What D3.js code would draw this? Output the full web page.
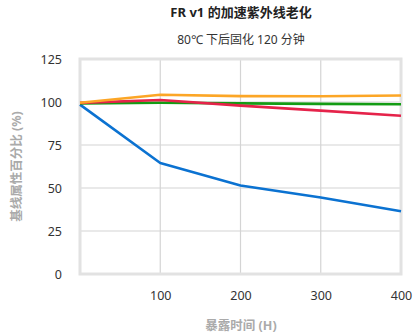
<!DOCTYPE html>
<html>
<head>
<meta charset="utf-8">
<script src="https://cdn.jsdelivr.net/npm/d3@7"></script>
<style>
body { margin: 0; background: #fff; }
svg text { font-family: "Noto Sans", "Noto Sans CJK SC", sans-serif; }
</style>
</head>
<body>
<div id="chart"></div>
<script>
// Chart data
const hours = [0, 100, 200, 300, 400];
const blueSeries = [98.5, 64.5, 51.5, 44.5, 36.5];
const orangeSeries = [99.6, 104.2, 103.4, 103.3, 103.8];
const greenSeries = [99.2, 99.6, 99.2, 98.9, 98.7];
const redSeries = [99.5, 101.2, 97.9, 95.0, 92.0];
const xTicks = [100, 200, 300, 400];
const yTicks = [0, 25, 50, 75, 100, 125];

const series = [
    { name: "blue", values: blueSeries, color: "#0b72d1" },
    { name: "green", values: greenSeries, color: "#139c14" },
    { name: "red", values: redSeries, color: "#e5234a" },
    { name: "orange", values: orangeSeries, color: "#fca626" }
];

const W = 414, H = 333;
const margin = { left: 80, right: 13, top: 59, bottom: 59 };

const svg = d3.select("#chart")
    .append("svg")
    .attr("width", W)
    .attr("height", H);

const x = d3.scaleLinear().domain([0, 400]).range([margin.left, W - margin.right]);
const y = d3.scaleLinear().domain([0, 125]).range([H - margin.bottom, margin.top]);

// Title + subtitle
svg.append("text")
    .attr("x", 241).attr("y", 17)
    .attr("text-anchor", "middle")
    .attr("font-size", 13).attr("font-weight", "bold").attr("fill", "#222")
    .text("FR v1 的加速紫外线老化");

svg.append("text")
    .attr("x", 241).attr("y", 44)
    .attr("text-anchor", "middle")
    .attr("font-size", 12).attr("fill", "#333")
    .text("80℃ 下后固化 120 分钟");

// Gridlines
const grid = svg.append("g");
grid.selectAll("line.h")
    .data(yTicks.filter(d => d > 0 && d < 125))
    .join("line")
    .attr("x1", x(0)).attr("x2", x(400))
    .attr("y1", d => y(d)).attr("y2", d => y(d))
    .attr("stroke", "#d4d4d4").attr("stroke-width", 1.2);
grid.selectAll("line.v")
    .data(xTicks.filter(d => d < 400))
    .join("line")
    .attr("x1", d => x(d)).attr("x2", d => x(d))
    .attr("y1", y(0)).attr("y2", y(125))
    .attr("stroke", "#d4d4d4").attr("stroke-width", 1.2);

// Plot frame
svg.append("rect")
    .attr("x", x(0)).attr("y", y(125))
    .attr("width", x(400) - x(0)).attr("height", y(0) - y(125))
    .attr("fill", "none").attr("stroke", "#e2e2e2").attr("stroke-width", 3);

// Axes
svg.append("g")
    .attr("transform", `translate(0,${y(0) + 9})`)
    .call(d3.axisBottom(x).tickValues(xTicks).tickSize(0).tickPadding(8))
    .call(g => g.select(".domain").remove())
    .call(g => g.selectAll("text").attr("font-size", 12.5).attr("fill", "#333"));

svg.append("g")
    .attr("transform", `translate(${x(0) - 15},0)`)
    .call(d3.axisLeft(y).tickValues(yTicks).tickSize(0).tickPadding(3))
    .call(g => g.select(".domain").remove())
    .call(g => g.selectAll("text").attr("font-size", 12.5).attr("fill", "#333"));

// Axis titles
svg.append("text")
    .attr("x", 241).attr("y", 330)
    .attr("text-anchor", "middle")
    .attr("font-size", 12.5).attr("font-weight", "bold").attr("fill", "#aaa")
    .text("暴露时间 (H)");

svg.append("text")
    .attr("transform", `translate(21,${(y(0) + y(125)) / 2}) rotate(-90)`)
    .attr("text-anchor", "middle")
    .attr("font-size", 12.5).attr("font-weight", "bold").attr("fill", "#aaa")
    .text("基线属性百分比 (%)");

// Lines
const line = d3.line()
    .x((d, i) => x(hours[i]))
    .y(d => y(d));

svg.append("g")
    .selectAll("path")
    .data(series)
    .join("path")
    .attr("d", d => line(d.values))
    .attr("fill", "none")
    .attr("stroke", d => d.color)
    .attr("stroke-width", 2.6)
    .attr("stroke-linejoin", "round");
</script>
</body>
</html>
